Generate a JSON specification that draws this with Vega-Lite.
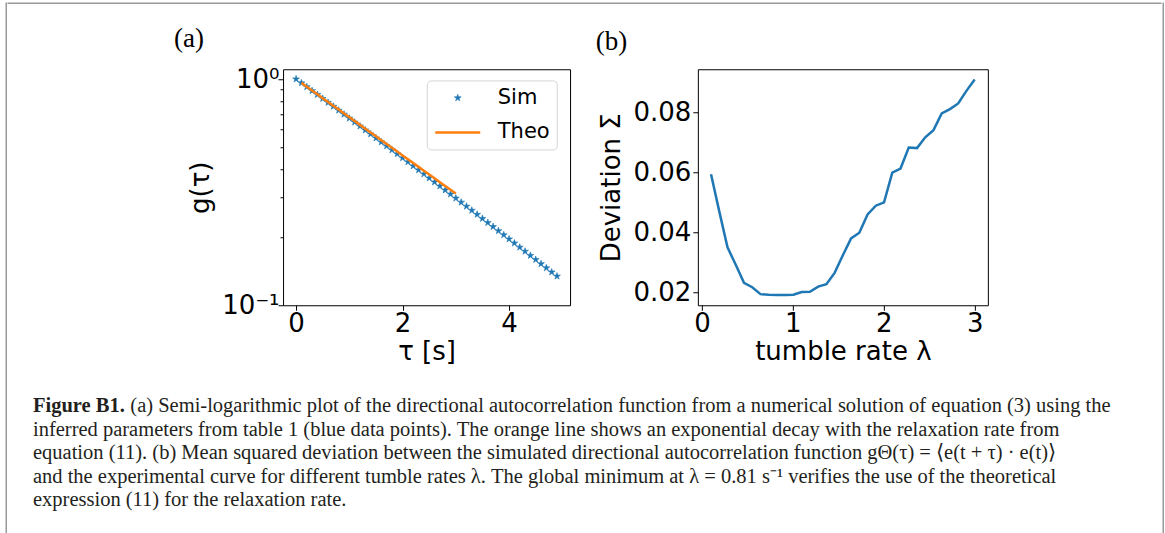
{
  "$schema": "https://vega.github.io/schema/vega-lite/v6.json",
  "background": "white",
  "padding": {"left": 5.25, "top": 2.25, "right": 0, "bottom": 0},
  "autosize": {"type": "pad"},
  "config": {
    "font": "DejaVu Sans",
    "view": {"stroke": "black", "strokeWidth": 1},
    "axis": {
      "labelFont": "DejaVu Sans", "titleFont": "DejaVu Sans",
      "labelColor": "black", "titleColor": "black", "tickColor": "black",
      "domain": false, "grid": false, "titleFontWeight": "normal",
      "labelFontSize": 26, "titleFontSize": 26, "tickSize": 5, "tickWidth": 1,
      "labelPadding": 2
    }
  },
  "title": {
    "text": "Figure B1.",
    "subtitle": [
      "\u200b\u00a0\u00a0\u00a0\u00a0\u00a0\u00a0\u00a0\u00a0\u00a0\u00a0\u00a0\u00a0\u00a0\u00a0\u00a0\u00a0\u00a0\u00a0\u00a0(a) Semi-logarithmic plot of the directional autocorrelation function from a numerical solution of equation (3) using the",
      "inferred parameters from table 1 (blue data points). The orange line shows an exponential decay with the relaxation rate from",
      "equation (11). (b) Mean squared deviation between the simulated directional autocorrelation function gΘ(τ) = ⟨e(t + τ) · e(t)⟩",
      "and the experimental curve for different tumble rates λ. The global minimum at λ = 0.81 s⁻¹ verifies the use of the theoretical",
      "expression (11) for the relaxation rate."
    ],
    "orient": "bottom", "anchor": "start", "frame": "bounds",
    "offset": -139, "dx": 27.45, "baseline": "top",
    "font": "Liberation Serif", "fontSize": 20.5, "fontWeight": "bold", "color": "#231f20",
    "subtitleFont": "Liberation Serif", "subtitleFontSize": 20.5, "subtitleFontWeight": "normal",
    "subtitleColor": "#231f20", "subtitleLineHeight": 23.5, "subtitlePadding": -20.5
  },
  "datasets": {
    "sim": [
      {"tau": 0.0, "g": 1.0, "series": "Sim"},
      {"tau": 0.1, "g": 0.96114, "series": "Sim"},
      {"tau": 0.2, "g": 0.92374, "series": "Sim"},
      {"tau": 0.3, "g": 0.88776, "series": "Sim"},
      {"tau": 0.4, "g": 0.85312, "series": "Sim"},
      {"tau": 0.5, "g": 0.81978, "series": "Sim"},
      {"tau": 0.6, "g": 0.78771, "series": "Sim"},
      {"tau": 0.7, "g": 0.75685, "series": "Sim"},
      {"tau": 0.8, "g": 0.72717, "series": "Sim"},
      {"tau": 0.9, "g": 0.6986, "series": "Sim"},
      {"tau": 1.0, "g": 0.67111, "series": "Sim"},
      {"tau": 1.1, "g": 0.64468, "series": "Sim"},
      {"tau": 1.2, "g": 0.61926, "series": "Sim"},
      {"tau": 1.3, "g": 0.5948, "series": "Sim"},
      {"tau": 1.4, "g": 0.57127, "series": "Sim"},
      {"tau": 1.5, "g": 0.54866, "series": "Sim"},
      {"tau": 1.6, "g": 0.5269, "series": "Sim"},
      {"tau": 1.7, "g": 0.50598, "series": "Sim"},
      {"tau": 1.8, "g": 0.48586, "series": "Sim"},
      {"tau": 1.9, "g": 0.46652, "series": "Sim"},
      {"tau": 2.0, "g": 0.44791, "series": "Sim"},
      {"tau": 2.1, "g": 0.43003, "series": "Sim"},
      {"tau": 2.2, "g": 0.41284, "series": "Sim"},
      {"tau": 2.3, "g": 0.39632, "series": "Sim"},
      {"tau": 2.4, "g": 0.38043, "series": "Sim"},
      {"tau": 2.5, "g": 0.36517, "series": "Sim"},
      {"tau": 2.6, "g": 0.35049, "series": "Sim"},
      {"tau": 2.7, "g": 0.33638, "series": "Sim"},
      {"tau": 2.8, "g": 0.32283, "series": "Sim"},
      {"tau": 2.9, "g": 0.30981, "series": "Sim"},
      {"tau": 3.0, "g": 0.29729, "series": "Sim"},
      {"tau": 3.1, "g": 0.28527, "series": "Sim"},
      {"tau": 3.2, "g": 0.27371, "series": "Sim"},
      {"tau": 3.3, "g": 0.26261, "series": "Sim"},
      {"tau": 3.4, "g": 0.25194, "series": "Sim"},
      {"tau": 3.5, "g": 0.2417, "series": "Sim"},
      {"tau": 3.6, "g": 0.23186, "series": "Sim"},
      {"tau": 3.7, "g": 0.22241, "series": "Sim"},
      {"tau": 3.8, "g": 0.21333, "series": "Sim"},
      {"tau": 3.9, "g": 0.20461, "series": "Sim"},
      {"tau": 4.0, "g": 0.19624, "series": "Sim"},
      {"tau": 4.1, "g": 0.1882, "series": "Sim"},
      {"tau": 4.2, "g": 0.18047, "series": "Sim"},
      {"tau": 4.3, "g": 0.17306, "series": "Sim"},
      {"tau": 4.4, "g": 0.16594, "series": "Sim"},
      {"tau": 4.5, "g": 0.1591, "series": "Sim"},
      {"tau": 4.6, "g": 0.15254, "series": "Sim"},
      {"tau": 4.7, "g": 0.14624, "series": "Sim"},
      {"tau": 4.8, "g": 0.1402, "series": "Sim"},
      {"tau": 4.9, "g": 0.13439, "series": "Sim"}
    ],
    "theo": [
      {"tau": 0.1, "g": 0.96188, "series": "Theo"},
      {"tau": 0.2, "g": 0.92521, "series": "Theo"},
      {"tau": 0.3, "g": 0.88994, "series": "Theo"},
      {"tau": 0.4, "g": 0.85601, "series": "Theo"},
      {"tau": 0.5, "g": 0.82338, "series": "Theo"},
      {"tau": 0.6, "g": 0.79199, "series": "Theo"},
      {"tau": 0.7, "g": 0.7618, "series": "Theo"},
      {"tau": 0.8, "g": 0.73276, "series": "Theo"},
      {"tau": 0.9, "g": 0.70482, "series": "Theo"},
      {"tau": 1.0, "g": 0.67795, "series": "Theo"},
      {"tau": 1.1, "g": 0.65211, "series": "Theo"},
      {"tau": 1.2, "g": 0.62725, "series": "Theo"},
      {"tau": 1.3, "g": 0.60334, "series": "Theo"},
      {"tau": 1.4, "g": 0.58034, "series": "Theo"},
      {"tau": 1.5, "g": 0.55821, "series": "Theo"},
      {"tau": 1.6, "g": 0.53693, "series": "Theo"},
      {"tau": 1.7, "g": 0.51646, "series": "Theo"},
      {"tau": 1.8, "g": 0.49677, "series": "Theo"},
      {"tau": 1.9, "g": 0.47784, "series": "Theo"},
      {"tau": 2.0, "g": 0.45962, "series": "Theo"},
      {"tau": 2.1, "g": 0.4421, "series": "Theo"},
      {"tau": 2.2, "g": 0.42524, "series": "Theo"},
      {"tau": 2.3, "g": 0.40903, "series": "Theo"},
      {"tau": 2.4, "g": 0.39344, "series": "Theo"},
      {"tau": 2.5, "g": 0.37844, "series": "Theo"},
      {"tau": 2.6, "g": 0.36401, "series": "Theo"},
      {"tau": 2.7, "g": 0.35014, "series": "Theo"},
      {"tau": 2.8, "g": 0.33679, "series": "Theo"},
      {"tau": 2.9, "g": 0.32395, "series": "Theo"},
      {"tau": 3.0, "g": 0.3116, "series": "Theo"}
    ],
    "dev": [
      {"lambda": 0.1, "sigma": 0.0594},
      {"lambda": 0.1906, "sigma": 0.047},
      {"lambda": 0.2813, "sigma": 0.035},
      {"lambda": 0.3719, "sigma": 0.0292},
      {"lambda": 0.4625, "sigma": 0.0232},
      {"lambda": 0.5531, "sigma": 0.0217},
      {"lambda": 0.6438, "sigma": 0.0194},
      {"lambda": 0.7344, "sigma": 0.0192},
      {"lambda": 0.825, "sigma": 0.0191},
      {"lambda": 0.9156, "sigma": 0.0191},
      {"lambda": 1.0063, "sigma": 0.0192},
      {"lambda": 1.0969, "sigma": 0.0201},
      {"lambda": 1.1875, "sigma": 0.0202},
      {"lambda": 1.2781, "sigma": 0.0219},
      {"lambda": 1.3688, "sigma": 0.0227},
      {"lambda": 1.4594, "sigma": 0.0265},
      {"lambda": 1.55, "sigma": 0.0324},
      {"lambda": 1.6406, "sigma": 0.038},
      {"lambda": 1.7313, "sigma": 0.0399},
      {"lambda": 1.8219, "sigma": 0.046},
      {"lambda": 1.9125, "sigma": 0.0489},
      {"lambda": 2.0031, "sigma": 0.05},
      {"lambda": 2.0938, "sigma": 0.0599},
      {"lambda": 2.1844, "sigma": 0.0613},
      {"lambda": 2.275, "sigma": 0.0683},
      {"lambda": 2.3656, "sigma": 0.0681},
      {"lambda": 2.4563, "sigma": 0.0717},
      {"lambda": 2.5469, "sigma": 0.0741},
      {"lambda": 2.6375, "sigma": 0.0797},
      {"lambda": 2.7281, "sigma": 0.0811},
      {"lambda": 2.8188, "sigma": 0.083},
      {"lambda": 2.9094, "sigma": 0.0872},
      {"lambda": 3.0, "sigma": 0.091}
    ]
  },
  "align": "each",
  "spacing": 0,
  "hconcat": [
    {
      "width": 0.01,
      "height": 531,
      "view": {"stroke": "#999999", "strokeWidth": 1.5, "fill": null},
      "data": {"values": []},
      "mark": {"type": "point"},
      "encoding": {}
    },
    {
      "align": "each",
      "spacing": 20,
      "vconcat": [
        {
          "width": 1152.5,
          "height": 0.01,
          "view": {"stroke": "#999999", "strokeWidth": 1.5, "fill": null},
          "data": {"values": []},
          "mark": {"type": "point"},
          "encoding": {}
        },
        {
          "align": "each",
          "spacing": 23.8,
          "hconcat": [
            {
              "width": 140,
              "height": 1,
              "view": {"stroke": "transparent", "fill": null},
              "data": {"values": []},
              "mark": {"type": "point"},
              "encoding": {}
            },
            {
              "width": 287,
              "height": 236,
              "title": {
                "text": "(a)", "anchor": "start", "frame": "group", "dx": -109,
                "offset": -8, "baseline": "alphabetic",
                "font": "Liberation Serif", "fontSize": 27, "fontWeight": "normal", "color": "black"
              },
              "layer": [
                {
                  "data": {"name": "sim"},
                  "mark": {"type": "point", "filled": true, "opacity": 1},
                  "encoding": {
                    "x": {
                      "field": "tau", "type": "quantitative",
                      "scale": {"domain": [-0.245, 5.145], "nice": false, "zero": false},
                      "axis": {"values": [0, 2, 4], "format": "d", "title": "τ [s]", "labelPadding": 0, "titlePadding": 2}
                    },
                    "y": {
                      "field": "g", "type": "quantitative",
                      "scale": {"type": "log", "domain": [0.1, 1.105], "nice": false},
                      "axis": {
                        "values": [0.1, 0.2, 0.3, 0.4, 0.5, 0.6, 0.7, 0.8, 0.9, 1],
                        "labelExpr": "datum.value === 1 ? '10⁰' : (datum.value === 0.1 ? '10⁻¹' : '')",
                        "tickSize": {"condition": {"test": "datum.value === 1 || datum.value === 0.1", "value": 5}, "value": 3},
                        "labelPadding": -1,
                        "title": "g(τ)", "titlePadding": 8
                      }
                    },
                    "color": {
                      "field": "series", "type": "nominal",
                      "scale": {"domain": ["Sim", "Theo"], "range": ["#1f77b4", "#ff7f0e"]},
                      "legend": {
                        "title": null, "orient": "none", "legendX": 420.5, "legendY": 77.2,
                        "labelFont": "DejaVu Sans", "labelFontSize": 21, "labelColor": "black",
                        "padding": 7, "strokeColor": "#d5d5d5", "fillColor": "rgba(255,255,255,0.8)",
                        "cornerRadius": 4, "rowPadding": 0, "labelOffset": 16, "symbolOpacity": 1
                      }
                    },
                    "stroke": {
                      "field": "series", "type": "nominal",
                      "scale": {"domain": ["Sim", "Theo"], "range": ["#1f77b4", "#ff7f0e"]}
                    },
                    "shape": {
                      "field": "series", "type": "nominal",
                      "scale": {"domain": ["Sim", "Theo"], "range": ["M0,-1L0.2245,-0.309L0.9511,-0.309L0.3633,0.118L0.5878,0.809L0,0.382L-0.5878,0.809L-0.3633,0.118L-0.9511,-0.309L-0.2245,-0.309Z", "stroke"]}
                    },
                    "size": {
                      "field": "series", "type": "nominal",
                      "scale": {"type": "ordinal", "domain": ["Sim", "Theo"], "range": [52, 2025]}
                    },
                    "strokeWidth": {
                      "field": "series", "type": "nominal",
                      "scale": {"type": "ordinal", "domain": ["Sim", "Theo"], "range": [0.6, 2.5]}
                    }
                  }
                },
                {
                  "data": {"name": "theo"},
                  "mark": {"type": "line", "color": "#ff7f0e", "strokeWidth": 2.5},
                  "encoding": {
                    "x": {"field": "tau", "type": "quantitative"},
                    "y": {"field": "g", "type": "quantitative"}
                  }
                }
              ]
            },
            {
              "width": 290,
              "height": 236,
              "title": {
                "text": "(b)", "anchor": "start", "frame": "group", "dx": -102,
                "offset": -8, "baseline": "alphabetic",
                "font": "Liberation Serif", "fontSize": 27, "fontWeight": "normal", "color": "black"
              },
              "data": {"name": "dev"},
              "mark": {"type": "line", "color": "#1f77b4", "strokeWidth": 2.5},
              "encoding": {
                "x": {
                  "field": "lambda", "type": "quantitative",
                  "scale": {"domain": [-0.045, 3.145], "nice": false, "zero": false},
                  "axis": {"values": [0, 1, 2, 3], "format": "d", "title": "tumble rate λ", "labelPadding": 0, "titlePadding": 2}
                },
                "y": {
                  "field": "sigma", "type": "quantitative",
                  "scale": {"domain": [0.0157, 0.0944], "nice": false, "zero": false},
                  "axis": {"values": [0.02, 0.04, 0.06, 0.08], "format": ".2f", "title": "Deviation Σ", "titlePadding": 8}
                }
              }
            }
          ]
        }
      ]
    },
    {
      "width": 0.01,
      "height": 531,
      "view": {"stroke": "#999999", "strokeWidth": 1.5, "fill": null},
      "data": {"values": []},
      "mark": {"type": "point"},
      "encoding": {}
    }
  ]
}
